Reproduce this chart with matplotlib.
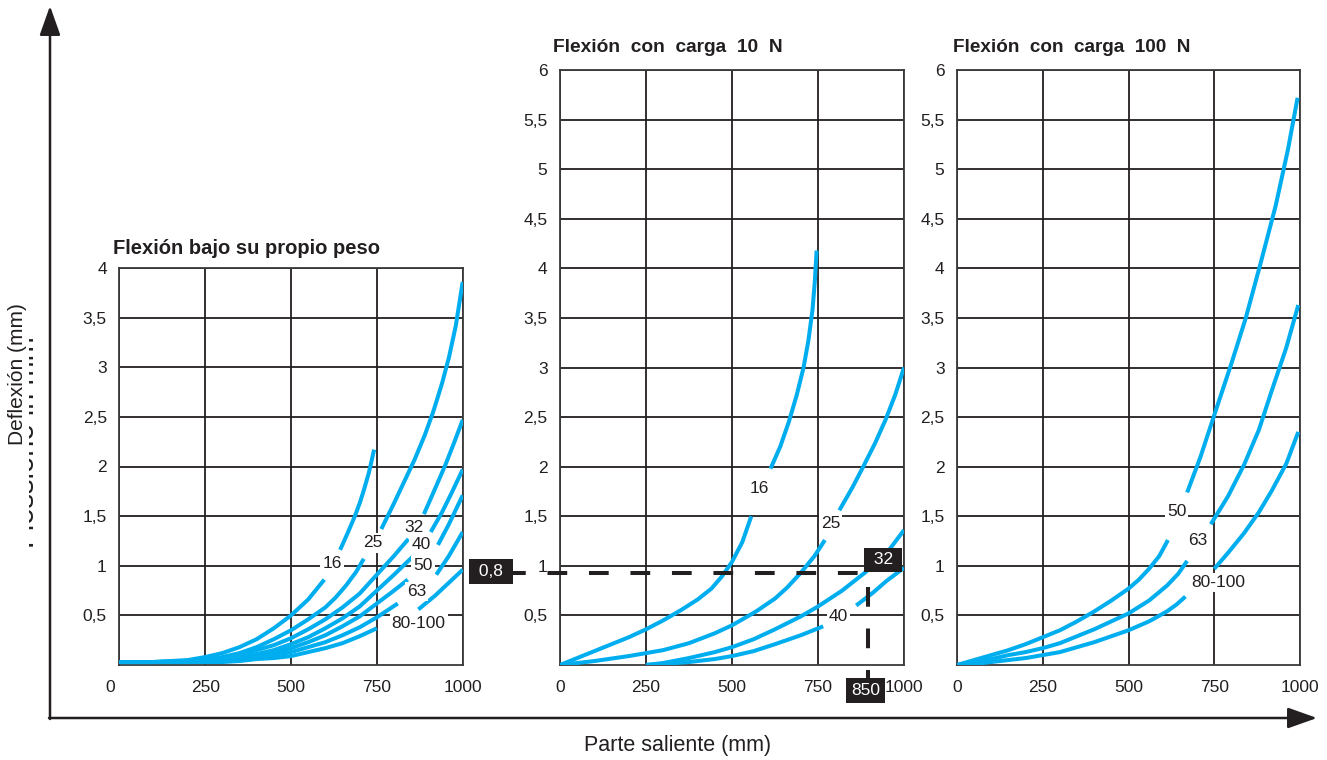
import numpy as np
import matplotlib
matplotlib.use('Agg')
import matplotlib.pyplot as plt
import matplotlib.transforms as mtransforms
from matplotlib.patches import Rectangle

plt.rcParams['font.family'] = ['Liberation Sans', 'DejaVu Sans']

nan = np.nan
CYAN = '#00aeef'
INK = '#231f20'

# ---------------- data ----------------
x_ticks = [0, 250, 500, 750, 1000]
x_tick_labels = ['0', '250', '500', '750', '1000']
y_ticks_own = [0.5, 1, 1.5, 2, 2.5, 3, 3.5, 4]
y_labels_own = ['0,5', '1', '1,5', '2', '2,5', '3', '3,5', '4']
y_ticks_load = [0.5, 1, 1.5, 2, 2.5, 3, 3.5, 4, 4.5, 5, 5.5, 6]
y_labels_load = ['0,5', '1', '1,5', '2', '2,5', '3', '3,5', '4', '4,5', '5', '5,5', '6']

titles = ['Flexión bajo su propio peso', 'Flexión  con  carga  10  N', 'Flexión  con  carga  100  N']
x_axis_label = 'Parte saliente (mm)'
y_axis_label = 'Deflexión (mm)'
y_axis_label_old = 'Flessione in mm'

# Panel 1: deflection under own weight (nan = gap where the label sits)
own_16_x = [0, 100, 200, 250, 300, 350, 400, 450, 500, 550, 597, nan, 643, 665, 686, 700, 712, 727, 742]
own_16_y = [0.03, 0.03, 0.05, 0.08, 0.12, 0.18, 0.26, 0.37, 0.5, 0.66, 0.86, nan, 1.16, 1.33, 1.5, 1.63, 1.76, 1.94, 2.17]
own_25_x = [0, 100, 200, 250, 300, 350, 400, 450, 500, 550, 600, 630, 660, 690, 712, nan,
            763, 800, 830, 860, 890, 915, 940, 960, 980, 1000]
own_25_y = [0.03, 0.03, 0.04, 0.05, 0.08, 0.12, 0.18, 0.26, 0.35, 0.46, 0.58, 0.68, 0.8, 0.94, 1.07, nan,
            1.37, 1.63, 1.85, 2.07, 2.32, 2.56, 2.84, 3.1, 3.42, 3.86]
own_32_x = [0, 100, 200, 250, 300, 350, 400, 450, 500, 550, 600, 650, 700, 750, 800, 842, nan,
            887, 920, 950, 975, 1000]
own_32_y = [0.03, 0.03, 0.04, 0.05, 0.07, 0.1, 0.15, 0.2, 0.27, 0.36, 0.46, 0.58, 0.72, 0.91, 1.1, 1.27, nan,
            1.52, 1.78, 2.02, 2.24, 2.47]
own_40_x = [0, 100, 200, 250, 300, 350, 400, 450, 500, 550, 600, 650, 700, 750, 800, 854, nan,
            907, 940, 970, 1000]
own_40_y = [0.03, 0.03, 0.03, 0.04, 0.05, 0.07, 0.11, 0.15, 0.21, 0.28, 0.37, 0.47, 0.59, 0.75, 0.91, 1.09, nan,
            1.34, 1.54, 1.75, 1.97]
own_50_x = [0, 100, 200, 250, 300, 350, 400, 450, 500, 550, 600, 650, 700, 750, 800, 840, nan, 928, 960, 1000]
own_50_y = [0.03, 0.03, 0.03, 0.04, 0.05, 0.06, 0.09, 0.12, 0.17, 0.23, 0.3, 0.39, 0.49, 0.62, 0.75, 0.86, nan,
            1.21, 1.42, 1.71]
own_63_x = [0, 200, 250, 300, 350, 400, 450, 500, 550, 600, 650, 700, 750, 811, nan, 923, 960, 1000]
own_63_y = [0.03, 0.03, 0.03, 0.04, 0.05, 0.07, 0.1, 0.13, 0.18, 0.23, 0.3, 0.38, 0.48, 0.62, nan, 0.91, 1.1, 1.34]
own_80_x = [0, 200, 250, 300, 350, 400, 450, 500, 550, 600, 650, 700, 750, nan, 871, 920, 960, 1000]
own_80_y = [0.03, 0.03, 0.03, 0.03, 0.04, 0.06, 0.07, 0.09, 0.13, 0.17, 0.22, 0.29, 0.37, nan, 0.56, 0.7, 0.83, 0.96]
own_labels = ['16', '25', '32', '40', '50', '63', '80-100']
own_label_x = [620, 738, 858, 879, 885, 866, 872]
own_label_y = [1.02, 1.23, 1.39, 1.21, 1.0, 0.74, 0.42]

# Panel 2: deflection with 10 N load
n10_16_x = [0, 50, 100, 150, 200, 250, 300, 350, 400, 440, 470, 500, 530, 556, nan,
            612, 640, 665, 688, 708, 722, 734, 741, 746]
n10_16_y = [0, 0.07, 0.14, 0.21, 0.28, 0.36, 0.45, 0.55, 0.66, 0.77, 0.89, 1.04, 1.24, 1.5, nan,
            1.98, 2.2, 2.45, 2.72, 3.0, 3.27, 3.58, 3.88, 4.18]
n10_25_x = [0, 100, 200, 250, 300, 375, 450, 500, 570, 625, 660, 700, 740, 770, nan,
            812, 850, 880, 915, 946, 975, 1000]
n10_25_y = [0, 0.04, 0.09, 0.12, 0.15, 0.22, 0.32, 0.4, 0.54, 0.67, 0.78, 0.93, 1.1, 1.26, nan,
            1.56, 1.79, 1.99, 2.23, 2.47, 2.73, 3.0]
n10_32_x = [250, 300, 375, 450, 500, 563, 625, 700, 750, 820, 886, 950, 1000]
n10_32_y = [0, 0.02, 0.07, 0.13, 0.18, 0.26, 0.36, 0.49, 0.59, 0.75, 0.93, 1.13, 1.36]
n10_40_x = [250, 300, 375, 450, 500, 563, 625, 700, 765, nan, 861, 910, 950, 1000]
n10_40_y = [0, 0.01, 0.03, 0.06, 0.09, 0.14, 0.21, 0.3, 0.39, nan, 0.6, 0.73, 0.85, 0.98]
n10_labels = ['16', '25', '40']
n10_label_x = [579, 787, 810]
n10_label_y = [1.78, 1.43, 0.49]

# worked example on panel 2 (positions as drawn)
example_defl_label = '0,8'
example_defl_y = 0.93
example_len_label = '850'
example_len_x = 895
example_series_label = '32'
example_series_x = 939
example_series_y = 1.06

# Panel 3: deflection with 100 N load
n100_50_x = [0, 50, 100, 150, 200, 250, 300, 350, 400, 450, 500, 530, 560, 590, 615, nan,
             671, 710, 750, 800, 842, 885, 929, 965, 993]
n100_50_y = [0, 0.05, 0.1, 0.15, 0.21, 0.28, 0.35, 0.44, 0.54, 0.65, 0.77, 0.86, 0.97, 1.1, 1.26, nan,
             1.74, 2.1, 2.52, 3.04, 3.5, 4.05, 4.63, 5.2, 5.72]
n100_63_x = [0, 50, 100, 150, 200, 250, 300, 350, 400, 450, 500, 560, 612, 645, 671, nan,
             740, 790, 837, 880, 918, 960, 995]
n100_63_y = [0, 0.03, 0.06, 0.1, 0.13, 0.17, 0.22, 0.29, 0.36, 0.44, 0.52, 0.65, 0.8, 0.92, 1.05, nan,
             1.42, 1.7, 2.02, 2.37, 2.77, 3.2, 3.63]
n100_80_x = [0, 50, 100, 150, 200, 250, 300, 350, 400, 450, 500, 560, 612, 640, 666, nan,
             750, 790, 837, 880, 918, 960, 995]
n100_80_y = [0, 0.01, 0.03, 0.05, 0.07, 0.1, 0.13, 0.18, 0.23, 0.29, 0.35, 0.44, 0.54, 0.61, 0.69, nan,
             0.97, 1.13, 1.33, 1.54, 1.76, 2.03, 2.35]
n100_labels = ['50', '63', '80-100']
n100_label_x = [640, 702, 763]
n100_label_y = [1.55, 1.26, 0.83]

# ---------------- figure ----------------
W, H = 1327, 760
fig = plt.figure(figsize=(W / 100, H / 100), dpi=100)

# overlay in pixel coordinates for the outer frame and axis titles
ov = fig.add_axes([0, 0, 1, 1])
ov.set_xlim(0, W)
ov.set_ylim(H, 0)
ov.axis('off')


def px_axes(x0, y_top, x1, y_bot):
    return fig.add_axes([x0 / W, (H - y_bot) / H, (x1 - x0) / W, (y_bot - y_top) / H])


ax1 = px_axes(119.3, 268, 462.7, 665)
ax2 = px_axes(560, 70, 904, 665)
ax3 = px_axes(957, 70, 1300, 665)

TICK_FS = 12.5
LABEL_FS = 12.5


def style_panel(ax, ymax, yt, yl):
    ax.set_xlim(0, 1000)
    ax.set_ylim(0, ymax)
    ax.set_xticks(x_ticks)
    ax.set_xticklabels(x_tick_labels)
    ax.set_yticks(yt)
    ax.set_yticklabels(yl)
    ax.tick_params(length=0, labelsize=TICK_FS, colors=INK)
    ax.tick_params(axis='x', pad=11)
    ax.tick_params(axis='y', pad=9)
    ax.grid(True, color=INK, lw=1.3)
    ax.set_axisbelow(True)
    for s in ax.spines.values():
        s.set_color('#3a3a3a')
        s.set_linewidth(1.3)
    ax.patch.set_alpha(0)


style_panel(ax1, 4, y_ticks_own, y_labels_own)
style_panel(ax2, 6, y_ticks_load, y_labels_load)
style_panel(ax3, 6, y_ticks_load, y_labels_load)

# left "0" is shared by both axes of the first panel, placed left of the corner
ax1.set_xticklabels([''] + x_tick_labels[1:])
ax1.text(0, 0, x_tick_labels[0], fontsize=TICK_FS, color=INK, ha='center', va='center',
         transform=ax1.transData + mtransforms.ScaledTranslation(-0.09, -0.22, fig.dpi_scale_trans))

curve_kw = dict(color=CYAN, lw=2.9, solid_capstyle='butt', solid_joinstyle='round', zorder=3)
for xs, ys in [(own_16_x, own_16_y), (own_25_x, own_25_y), (own_32_x, own_32_y),
               (own_40_x, own_40_y), (own_50_x, own_50_y), (own_63_x, own_63_y),
               (own_80_x, own_80_y)]:
    ax1.plot(xs, ys, **curve_kw)
for xs, ys in [(n10_16_x, n10_16_y), (n10_25_x, n10_25_y), (n10_32_x, n10_32_y),
               (n10_40_x, n10_40_y)]:
    ax2.plot(xs, ys, **curve_kw)
for xs, ys in [(n100_50_x, n100_50_y), (n100_63_x, n100_63_y), (n100_80_x, n100_80_y)]:
    ax3.plot(xs, ys, **curve_kw)

lab_kw = dict(fontsize=LABEL_FS, color=INK, ha='center', va='center', zorder=5,
              bbox=dict(boxstyle='square,pad=0.12', fc='white', ec='none'))
for ax, labs, lx, ly in [(ax1, own_labels, own_label_x, own_label_y),
                         (ax2, n10_labels, n10_label_x, n10_label_y),
                         (ax3, n100_labels, n100_label_x, n100_label_y)]:
    for t, x, y in zip(labs, lx, ly):
        ax.text(x, y, t, **lab_kw)

# worked example: dashed reading lines and black tags
dash_kw = dict(color=INK, lw=2.9, ls=(0, (4.9, 5.4)), zorder=6, clip_on=False,
               dash_capstyle='butt')
ax2.plot([-157, example_series_x - 60], [example_defl_y, example_defl_y], **dash_kw)
ax2.plot([example_len_x, example_len_x], [example_defl_y - 0.14, -0.14], **dash_kw)
tag_kw = dict(fontsize=LABEL_FS, color='white', ha='center', va='center', zorder=8,
              clip_on=False, bbox=dict(boxstyle='square,pad=0.28', fc=INK, ec='none'))
ax2.text(-200, example_defl_y + 0.01, ' ' + example_defl_label + ' ', **tag_kw)
ax2.text(example_series_x, example_series_y, ' ' + example_series_label + ' ', **tag_kw)
ax2.text(example_len_x - 6, -0.26, example_len_label, **tag_kw)

# panel titles
title_kw = dict(fontweight='bold', color=INK, ha='left', va='center')
ov.text(113, 248, titles[0], fontsize=14.5, **title_kw)
ov.text(553, 47, titles[1], fontsize=13.8, **title_kw)
ov.text(953, 47, titles[2], fontsize=13.6, **title_kw)

# outer axes with arrows
arrow_kw = dict(arrowstyle='-|>,head_length=0.9,head_width=0.32', lw=1.8, color=INK,
                mutation_scale=20, shrinkA=0, shrinkB=0)
ov.annotate('', xy=(50, 6), xytext=(50, 719), arrowprops=arrow_kw)
ov.annotate('', xy=(1317, 718), xytext=(49, 718), arrowprops=arrow_kw)

ov.text(678, 746, x_axis_label, fontsize=15.5, color=INK, ha='center', va='center')
# remnant of the older label, mostly covered
ov.text(26.5, 442, y_axis_label_old, fontsize=21, color=INK, ha='center', va='center', rotation=90)
ov.add_patch(Rectangle((0, 290), 28.5, 290, fc='white', ec='none', zorder=3))
ov.text(18, 374, y_axis_label, fontsize=15, color=INK, ha='center', va='center', rotation=90, zorder=4)

fig.savefig('out.png', dpi=100)
